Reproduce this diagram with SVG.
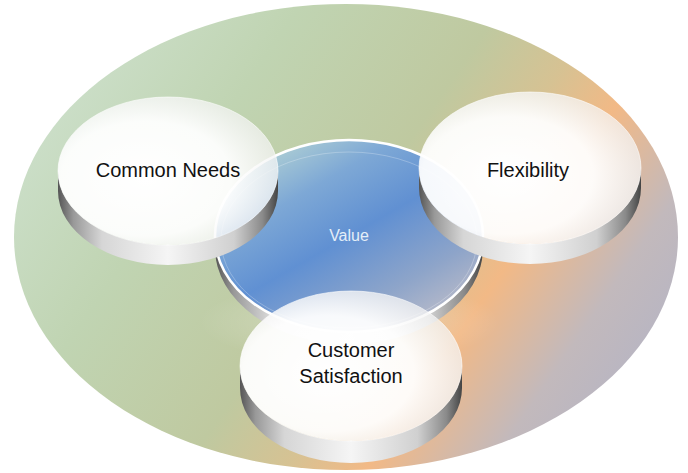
<svg xmlns="http://www.w3.org/2000/svg" width="688" height="473" viewBox="0 0 688 473">
  <defs>
    <linearGradient id="bg" gradientUnits="userSpaceOnUse" x1="0" y1="0" x2="688" y2="473">
      <stop offset="0" stop-color="#d3e6d8"/>
      <stop offset="0.3" stop-color="#c0d4b2"/>
      <stop offset="0.5" stop-color="#bfc9a0"/>
      <stop offset="0.6" stop-color="#d6c293"/>
      <stop offset="0.68" stop-color="#f2b986"/>
      <stop offset="0.8" stop-color="#c2b9bc"/>
      <stop offset="1" stop-color="#a9b0cc"/>
    </linearGradient>
    <linearGradient id="rim" x1="0" y1="0" x2="1" y2="0">
      <stop offset="0" stop-color="#555"/>
      <stop offset="0.07" stop-color="#999"/>
      <stop offset="0.2" stop-color="#d6d6d6"/>
      <stop offset="0.5" stop-color="#f5f5f5"/>
      <stop offset="0.8" stop-color="#d0d0d0"/>
      <stop offset="0.93" stop-color="#8a8a8a"/>
      <stop offset="1" stop-color="#444"/>
    </linearGradient>
    <radialGradient id="face" cx="0.4" cy="0.55" r="0.7">
      <stop offset="0" stop-color="#ffffff" stop-opacity="1"/>
      <stop offset="0.55" stop-color="#ffffff" stop-opacity="0.94"/>
      <stop offset="1" stop-color="#f0f0f0" stop-opacity="0.66"/>
    </radialGradient>
    <linearGradient id="valueFace" x1="0.1" y1="0" x2="0.9" y2="1">
      <stop offset="0" stop-color="#c2dfd6"/>
      <stop offset="0.28" stop-color="#7aa6d8"/>
      <stop offset="0.5" stop-color="#5b8dd5"/>
      <stop offset="0.75" stop-color="#8aa3cc"/>
      <stop offset="1" stop-color="#c8c4cc"/>
    </linearGradient>
    <radialGradient id="glow" cx="0.5" cy="0.5" r="0.5">
      <stop offset="0" stop-color="#ffffff" stop-opacity="0.35"/>
      <stop offset="1" stop-color="#ffffff" stop-opacity="0"/>
    </radialGradient>
  </defs>
  <style>
    .label { font-family: "Liberation Sans", Arial, sans-serif; font-size: 20px; fill: #111; text-anchor: middle; }
    .vlabel { font-family: "Liberation Sans", Arial, sans-serif; font-size: 16px; fill: #e4eef8; text-anchor: middle; }
    .rim { fill: url(#rim); }
    .face { fill: url(#face); stroke: #ffffff; stroke-opacity: 0.6; stroke-width: 1; }
  </style>

  <ellipse id="background" cx="346" cy="237" rx="332" ry="233" fill="url(#bg)"/>
  <ellipse cx="349" cy="322" rx="150" ry="42" fill="url(#glow)"/>

  <g id="node-value">
    <path class="rim" d="M215,236 L215,248 A134,96 0 0 0 483,248 L483,236 A134,96 0 0 1 215,236 Z"/>
    <ellipse cx="349" cy="236" rx="134" ry="96" fill="url(#valueFace)" fill-opacity="0.95" stroke="#ffffff" stroke-width="2.5"/>
    <ellipse cx="349" cy="240" rx="128" ry="88" fill="none" stroke="#ffffff" stroke-opacity="0.25" stroke-width="1"/>
    <text class="vlabel" x="349" y="241">Value</text>
  </g>

  <g id="node-common-needs">
    <path class="rim" d="M58,171 L58,191 A110,74 0 0 0 278,191 L278,171 A110,74 0 0 1 58,171 Z"/>
    <ellipse class="face" cx="168" cy="171" rx="110" ry="74"/>
    <text class="label" x="168" y="177">Common Needs</text>
  </g>

  <g id="node-flexibility">
    <path class="rim" d="M419,168 L419,188 A111,76 0 0 0 641,188 L641,168 A111,76 0 0 1 419,168 Z"/>
    <ellipse class="face" cx="530" cy="168" rx="111" ry="76"/>
    <text class="label" x="528" y="177">Flexibility</text>
  </g>

  <g id="node-customer-satisfaction">
    <path class="rim" d="M240,366 L240,388 A111,75 0 0 0 462,388 L462,366 A111,75 0 0 1 240,366 Z"/>
    <ellipse class="face" cx="351" cy="366" rx="111" ry="75"/>
    <text class="label" x="351" y="357">Customer</text>
    <text class="label" x="351" y="383">Satisfaction</text>
  </g>
</svg>
